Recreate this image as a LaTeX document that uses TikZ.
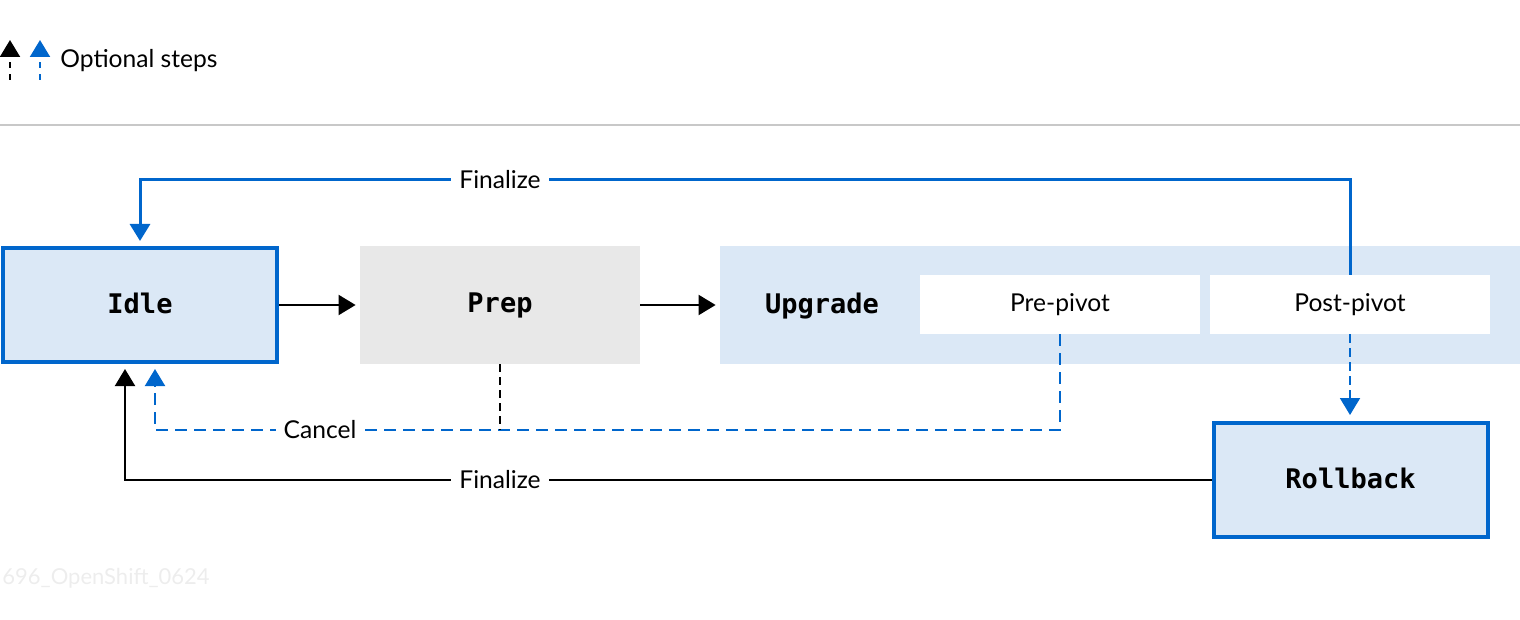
\documentclass[tikz,border=0pt]{standalone}
\usepackage{fontspec}
\setmainfont{Lato}
\newfontfamily\statefont{DejaVu Sans Mono}
\usetikzlibrary{arrows.meta}
\definecolor{rhblue}{HTML}{0066CC}
\definecolor{lightblue}{HTML}{DBE8F6}
\definecolor{lightgrayfill}{HTML}{E8E8E8}
\definecolor{sepgray}{HTML}{C8C8C8}
\definecolor{wmgray}{HTML}{EDEDED}
\begin{document}
\begin{tikzpicture}[x=0.5pt,y=-0.5pt,
  font=\fontsize{12.3}{14}\selectfont,
  monotext/.style={font=\statefont\bfseries\fontsize{13.5}{16}\selectfont, text depth=2pt},
  statebox/.style={monotext, draw=rhblue, line width=2pt, fill=lightblue, minimum width=137pt, minimum height=57pt, inner sep=0pt},
  prepbox/.style={monotext, fill=lightgrayfill, minimum width=140pt, minimum height=59pt, inner sep=0pt},
  regionbox/.style={fill=lightblue, minimum width=400pt, minimum height=59pt, inner sep=0pt},
  subbox/.style={fill=white, minimum width=140pt, minimum height=29.5pt, inner sep=0pt},
  plaintext/.style={inner sep=0pt},
  lbl/.style={fill=white, inner xsep=4pt, inner ysep=1pt},
  tip/.style={-{Triangle[width=10pt,length=8.5pt]}},
  blueline/.style={draw=rhblue, line width=1.5pt},
  blackline/.style={draw=black, line width=1pt},
  bluedash/.style={draw=rhblue, line width=1pt, dash pattern=on 6pt off 3.5pt},
  bluedashshort/.style={draw=rhblue, line width=1pt, dash pattern=on 4.5pt off 2.5pt},
  blackdash/.style={draw=black, line width=1pt, dash pattern=on 4pt off 2.5pt},
  legenddash/.style={line width=1pt, dash pattern=on 3pt off 3pt}
]
\useasboundingbox (0,0) rectangle (1520,620);

% legend
\coordinate (lkb) at (10,80);
\coordinate (lkt) at (10,40);
\coordinate (lbb) at (40,80);
\coordinate (lbt) at (40,40);
\draw[legenddash, draw=black, tip] (lkb) -- (lkt);
\draw[legenddash, draw=rhblue, tip] (lbb) -- (lbt);
\node[plaintext, anchor=west] (legend) at (60,61) {Optional steps};

% separator
\coordinate (s1) at (0,125);
\coordinate (s2) at (1520,125);
\draw[sepgray, line width=1pt] (s1) -- (s2);

% boxes
\node[statebox] (idle) at (140,305) {Idle};
\node[prepbox] (prep) at (500,305) {Prep};
\node[regionbox] (upgrade) at (1120,305) {};
\node[plaintext, monotext] (upgradelbl) at (822,305) {Upgrade};
\node[subbox] (prepivot) at (1060,304.5) {Pre-pivot};
\node[subbox] (postpivot) at (1350,304.5) {Post-pivot};
\node[statebox] (rollback) at (1350.5,480) {Rollback};

% main arrows
\draw[blackline, tip, shorten >=2pt] (idle.east) -- (prep.west);
\draw[blackline, tip, shorten >=2pt] (prep.east) -- (upgrade.west);

% top finalize (blue)
\coordinate (tr) at (1350,180);
\coordinate (tl) at (140,180);
\draw[blueline, tip, shorten >=2.5pt] (postpivot.north) -- (tr) -- (tl) -- (idle.north);
\node[lbl] (fin1) at (500,180) {Finalize};

% post-pivot to rollback
\draw[bluedashshort, tip, shorten >=3pt] (postpivot.south) -- (rollback.north -| postpivot.south);

% cancel
\coordinate (cr) at (1060,430);
\coordinate (cl) at (155,430);
\coordinate (pj) at (500,430);
\draw[bluedash, tip, shorten >=2.5pt] (prepivot.south) -- (cr) -- (cl) -- (idle.south -| cl);
\draw[blackdash] (prep.south) -- (pj);
\node[lbl] (cancel) at (320,430) {Cancel};

% bottom finalize (black)
\coordinate (bl) at (125,480);
\draw[blackline, tip, shorten >=2.5pt] (rollback.west) -- (bl) -- (idle.south -| bl);
\node[lbl] (fin2) at (500,480) {Finalize};

% watermark
\node[plaintext, anchor=west, text=wmgray, font=\fontsize{11}{13}\selectfont] (wm) at (2,578) {696\_OpenShift\_0624};
\end{tikzpicture}
\end{document}
